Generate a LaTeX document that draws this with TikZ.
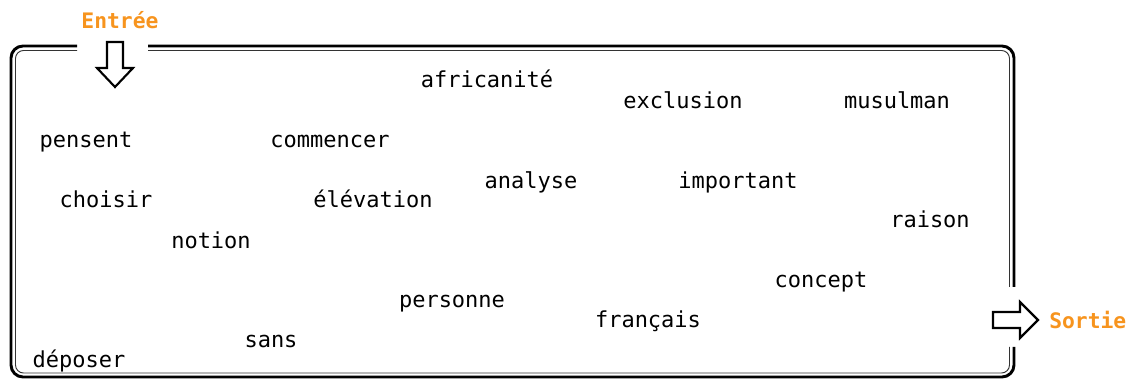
\documentclass[tikz,border=0pt]{standalone}
\usepackage{fontspec}
\setmonofont{DejaVu Sans Mono}
\definecolor{tagorange}{RGB}{247,148,30}

\begin{document}
\begin{tikzpicture}[x=0.75pt,y=-0.75pt,
    word/.style={font=\fontsize{16.5}{18}\selectfont\ttfamily, black, inner sep=0pt, anchor=base},
    tag/.style={font=\fontsize{16}{18}\selectfont\ttfamily\bfseries, tagorange, inner sep=0pt},
    outerline/.style={line width=2.2pt, rounded corners=9pt},
    innerline/.style={line width=0.7pt, draw=black!80, rounded corners=6pt},
    blockarrow/.style={line width=1.6pt, fill=white, line join=miter}]
    \useasboundingbox (0,0) rectangle (1133,381);

    % cadre double, ouvert pour l'entree et la sortie
    \draw[outerline] (148,46) -- (1014,46) -- (1014,287);
    \draw[outerline] (1014,347) -- (1014,377) -- (11,377) -- (11,46) -- (77,46);
    \draw[innerline] (148,50.5) -- (1009.5,50.5) -- (1009.5,287);
    \draw[innerline] (1009.5,347) -- (1009.5,373) -- (15.5,373) -- (15.5,50.5) -- (77,50.5);

    % etiquettes
    \node[tag] (entree) at (120,20) {Entrée};
    \node[tag, anchor=west] (sortie) at (1049,320) {Sortie};

    % fleches
    \draw[blockarrow] (107,42) -- (123,42) -- (123,68) -- (133,68) -- (115,87)
        -- (97,68) -- (107,68) -- cycle;
    \draw[blockarrow] (993,312) -- (1020,312) -- (1020,302) -- (1038,320)
        -- (1020,338) -- (1020,328) -- (993,328) -- cycle;

    % mots
    \node[word] (africanite) at (487,88) {africanité};
    \node[word] (exclusion) at (683,109) {exclusion};
    \node[word] (musulman) at (897,109) {musulman};
    \node[word] (pensent) at (86,148) {pensent};
    \node[word] (commencer) at (330,148) {commencer};
    \node[word] (analyse) at (531,189) {analyse};
    \node[word] (important) at (738,189) {important};
    \node[word] (choisir) at (106,208) {choisir};
    \node[word] (elevation) at (373,208) {élévation};
    \node[word] (raison) at (930,228) {raison};
    \node[word] (notion) at (211,249) {notion};
    \node[word] (concept) at (821,288) {concept};
    \node[word] (personne) at (452,308) {personne};
    \node[word] (francais) at (648,328) {français};
    \node[word] (sans) at (271,348) {sans};
    \node[word] (deposer) at (79,368) {déposer};
\end{tikzpicture}
\end{document}
